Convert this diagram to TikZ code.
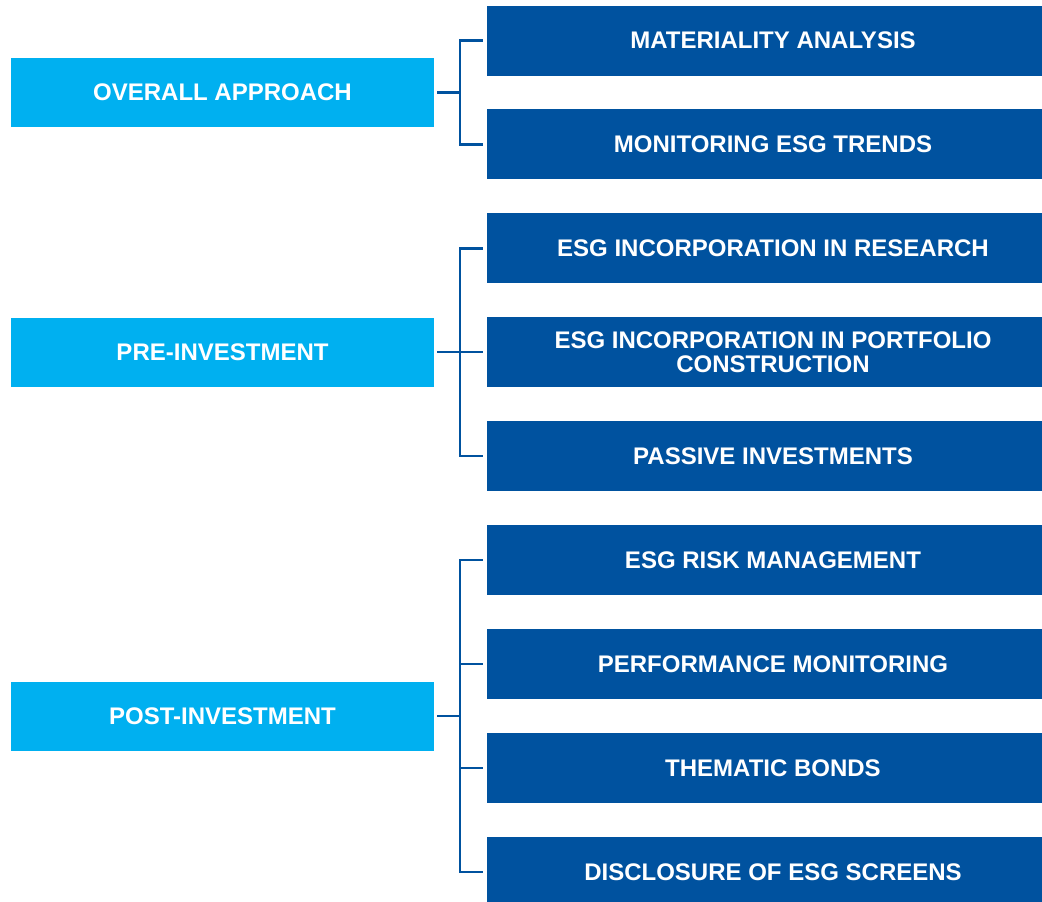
\documentclass[tikz,border=0pt]{standalone}
\usepackage{fontspec}
\setmainfont{Liberation Sans}
\definecolor{lightb}{HTML}{00B0F0}
\definecolor{darkb}{HTML}{00529F}
\begin{document}
\begin{tikzpicture}[x=1pt,y=-1pt,
  txt/.style={text=white,font=\fontsize{24}{24}\selectfont\bfseries,align=center,inner sep=0pt},
  leftbox/.style={txt,fill=lightb,minimum width=423pt,minimum height=69pt},
  rightbox/.style={txt,fill=darkb,minimum width=572pt,minimum height=70pt},
  conn/.style={draw=darkb,line width=2.4pt}]
\useasboundingbox (0,0) rectangle (1042,902);
\coordinate (sx) at (460,0);
% left boxes
\node[leftbox] (L1) at (222.5,92.3) {OVERALL APPROACH};
\node[leftbox] (L2) at (222.5,352) {PRE-INVESTMENT};
\node[leftbox] (L3) at (222.5,716) {POST-INVESTMENT};
% right boxes
\node[rightbox] (R1) at (773,40.5) {MATERIALITY ANALYSIS};
\node[rightbox] (R2) at (773,144.3) {MONITORING ESG TRENDS};
\node[rightbox] (R3) at (773,248.3) {ESG INCORPORATION IN RESEARCH};
\node[rightbox] (R4) at (773,352) {ESG INCORPORATION IN PORTFOLIO\\CONSTRUCTION};
\node[rightbox] (R5) at (773,456) {PASSIVE INVESTMENTS};
\node[rightbox] (R6) at (773,560) {ESG RISK MANAGEMENT};
\node[rightbox] (R7) at (773,664) {PERFORMANCE MONITORING};
\node[rightbox] (R8) at (773,768) {THEMATIC BONDS};
\node[rightbox] (R9) at (773,872) {DISCLOSURE OF ESG SCREENS};
% connectors
\foreach \l/\a/\b in {L1/R1/R2, L2/R3/R5, L3/R6/R9}{
  \draw[conn] ([xshift=3pt]\l.east) -- (\l.east -| sx);
  \draw[conn,line cap=rect] (\a.west -| sx) -- (\b.west -| sx);
}
\foreach \r in {R1,R2,R3,R4,R5,R6,R7,R8,R9}{
  \draw[conn] (\r.west -| sx) -- ([xshift=-4pt]\r.west);
}
\end{tikzpicture}
\end{document}
